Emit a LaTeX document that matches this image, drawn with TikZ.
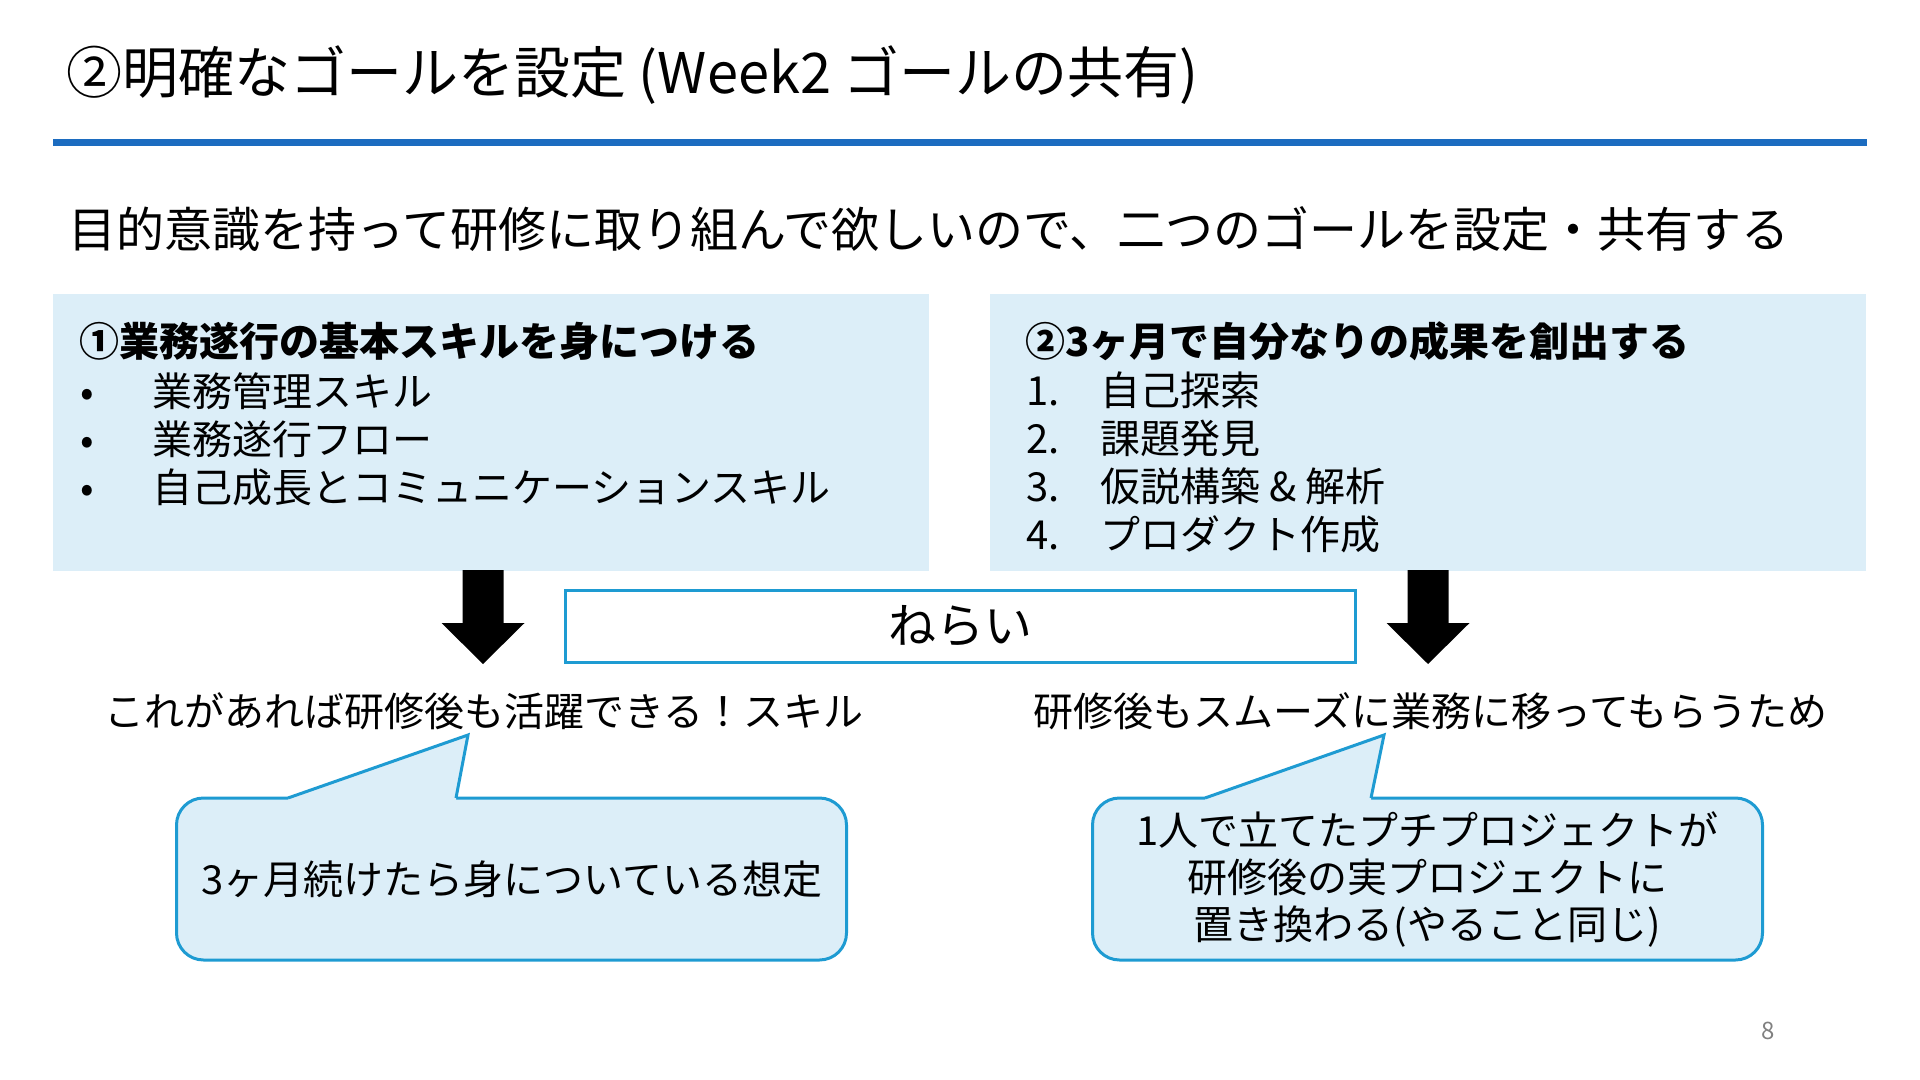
\documentclass[tikz,border=0pt]{standalone}
\usepackage{fontspec}
\setmainfont{Noto Sans CJK JP}
\definecolor{goalfill}{RGB}{220,238,248}
\definecolor{calloutblue}{RGB}{30,155,210}
\definecolor{ruleblue}{RGB}{28,108,192}
\tikzset{
  goalbox/.style={fill=goalfill, inner sep=0pt, minimum width=438pt, minimum height=138.5pt},
  goaltext/.style={anchor=base west, inner sep=0pt, font=\fontsize{20}{24}\selectfont},
  notetext/.style={anchor=base, inner sep=0pt, font=\fontsize{20}{24}\selectfont},
  aimbox/.style={draw=calloutblue, line width=1.5pt, fill=white, minimum width=395pt, minimum height=36pt, inner sep=0pt, font=\fontsize{24}{28}\selectfont},
  callout/.style={draw=calloutblue, fill=goalfill, line width=1.5pt, rounded corners=13.5pt, minimum width=335pt, minimum height=81pt, align=center, font=\fontsize{20}{23.5}\selectfont},
}
\begin{document}
\begin{tikzpicture}[x=0.5pt, y=-0.5pt]
\useasboundingbox (0,0) rectangle (1920,1080);

% Title and rule
\node[anchor=base west, inner sep=0pt, font=\fontsize{28}{32}\selectfont] (title) at (66,94) {②明確なゴールを設定 (Week2 ゴールの共有)};
\draw[ruleblue, line width=3.5pt] (53,142.5) -- (1867,142.5);
\node[anchor=base west, inner sep=0pt, font=\fontsize{24}{28}\selectfont] (lead) at (68,248) {目的意識を持って研修に取り組んで欲しいので、二つのゴールを設定・共有する};

% Goal 1 box
\node[goalbox] (goalA) at (491,432.5) {};
\node[goaltext, font=\fontsize{20}{24}\selectfont\bfseries] (goalAhead) at (79,357) {①業務遂行の基本スキルを身につける};
\node[goaltext] (goalAone) at (80,406) {\makebox[36pt][l]{•}業務管理スキル};
\node[goaltext] (goalAtwo) at (80,454) {\makebox[36pt][l]{•}業務遂行フロー};
\node[goaltext] (goalAthree) at (80,502) {\makebox[36pt][l]{•}自己成長とコミュニケーションスキル};

% Goal 2 box
\node[goalbox] (goalB) at (1427.5,432.5) {};
\node[goaltext, font=\fontsize{20}{24}\selectfont\bfseries] (goalBhead) at (1025,357) {②3ヶ月で自分なりの成果を創出する};
\node[goaltext] (goalBone) at (1026,405) {\makebox[37pt][l]{1.}自己探索};
\node[goaltext] (goalBtwo) at (1026,453) {\makebox[37pt][l]{2.}課題発見};
\node[goaltext] (goalBthree) at (1026,501) {\makebox[37pt][l]{3.}仮説構築 \& 解析};
\node[goaltext] (goalBfour) at (1026,549) {\makebox[37pt][l]{4.}プロダクト作成};

% Block arrows
\fill (462.5,570) -- (503.5,570) -- (503.5,623) -- (524.5,623) -- (483,664) -- (441.5,623) -- (462.5,623) -- cycle;
\fill (1407.5,570) -- (1448.5,570) -- (1448.5,623) -- (1469.5,623) -- (1428,664) -- (1386.5,623) -- (1407.5,623) -- cycle;

% Aim label
\node[aimbox] (aim) at (960,626.5) {ねらい};

% Aim notes
\node[notetext] (skillnote) at (484,726) {これがあれば研修後も活躍できる！スキル};
\node[notetext] (reasonnote) at (1430,726) {研修後もスムーズに業務に移ってもらうため};

% Callouts
\node[callout] (callA) at (511.5,879) {3ヶ月続けたら身についている想定};
\coordinate (tipA) at (468,735);
\fill[goalfill] (288,798) -- (tipA) -- (456,798) -- (456,802) -- (288,802) -- cycle;
\draw[calloutblue, line width=1.5pt] (288,798) -- (tipA) -- (456,798);

\node[callout] (callB) at (1427.5,879) {1人で立てたプチプロジェクトが\\研修後の実プロジェクトに\\置き換わる(やること同じ)};
\coordinate (tipB) at (1384,735);
\fill[goalfill] (1205,798) -- (tipB) -- (1371,798) -- (1371,802) -- (1205,802) -- cycle;
\draw[calloutblue, line width=1.5pt] (1205,798) -- (tipB) -- (1371,798);

% Page number
\node[inner sep=0pt, text=gray, font=\fontsize{12}{14}\selectfont] (pagenum) at (1768,1031) {8};
\end{tikzpicture}
\end{document}
